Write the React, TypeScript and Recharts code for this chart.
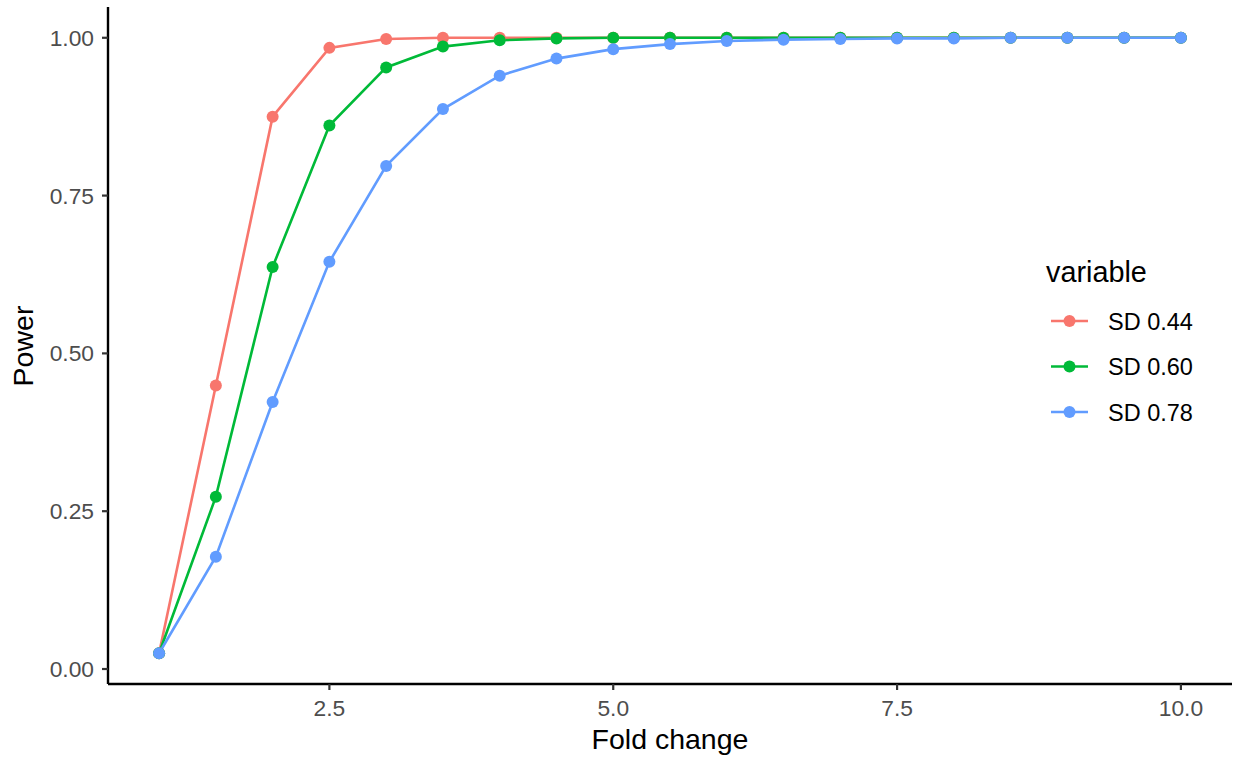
import React from "react";
import { LineChart, Line, XAxis, YAxis } from "recharts";

// Fold change values on the x axis
const foldChange = [1, 1.5, 2, 2.5, 3, 3.5, 4, 4.5, 5, 5.5, 6, 6.5, 7, 7.5, 8, 8.5, 9, 9.5, 10];

// Power for each standard deviation
const sd044 = [0.025, 0.449, 0.875, 0.984, 0.998, 1, 1, 1, 1, 1, 1, 1, 1, 1, 1, 1, 1, 1, 1];
const sd060 = [0.025, 0.273, 0.637, 0.861, 0.953, 0.986, 0.996, 0.999, 1, 1, 1, 1, 1, 1, 1, 1, 1, 1, 1];
const sd078 = [0.025, 0.178, 0.423, 0.645, 0.797, 0.887, 0.94, 0.967, 0.982, 0.99, 0.995, 0.997, 0.998, 0.999, 0.999, 1, 1, 1, 1];

const xTicks = [2.5, 5, 7.5, 10];
const yTicks = [0, 0.25, 0.5, 0.75, 1];

const seriesNames = ["SD 0.44", "SD 0.60", "SD 0.78"];
const seriesColors = ["#F8766D", "#00BA38", "#619CFF"];
const seriesKeys = ["sd044", "sd060", "sd078"];

const rows = foldChange.map((x, i) => ({
  x,
  sd044: sd044[i],
  sd060: sd060[i],
  sd078: sd078[i],
}));

const FONT = "'Liberation Sans', Arial, Helvetica, sans-serif";

const tickStyle = { fill: "#4D4D4D", fontSize: 22.8, fontFamily: FONT };

const XTitle = () => (
  <text x={670} y={749} textAnchor="middle" fontSize={28.5} fontFamily={FONT} fill="#000">
    Fold change
  </text>
);

const YTitle = () => {
  const cy = 346;
  const cx = 33;
  return (
    <text
      x={cx}
      y={cy}
      textAnchor="middle"
      fontSize={28.5}
      fontFamily={FONT}
      fill="#000"
      transform={`rotate(-90, ${cx}, ${cy})`}
    >
      Power
    </text>
  );
};

const LegendBox = () => (
  <svg
    width={200}
    height={200}
    style={{ position: "absolute", left: 1030, top: 240, overflow: "visible" }}
  >
    <text x={16} y={41.5} fontSize={28.8} fontFamily={FONT} fill="#000">
      variable
    </text>
    {seriesNames.map((name, i) => {
      const cy = 81 + i * 45.5;
      return (
        <g key={name}>
          <line x1={21} x2={58} y1={cy} y2={cy} stroke={seriesColors[i]} strokeWidth={2.6} />
          <circle cx={39.5} cy={cy} r={6} fill={seriesColors[i]} />
          <text x={78} y={cy + 8.5} fontSize={23.5} fontFamily={FONT} fill="#000">
            {name}
          </text>
        </g>
      );
    })}
  </svg>
);

export default function App() {
  return (
    <div style={{ position: "absolute", left: 0, top: 0, width: 1236, height: 761, background: "#fff" }}>
      <LineChart
        width={1236}
        height={761}
        data={rows}
        margin={{ top: 7, right: 4, left: 0, bottom: 0 }}
      >
        <XAxis
          dataKey="x"
          type="number"
          domain={[0.55, 10.45]}
          ticks={xTicks}
          allowDataOverflow
          tickFormatter={(v: number) => v.toFixed(1)}
          height={77}
          tick={tickStyle}
          tickSize={6}
          tickMargin={10}
          axisLine={{ stroke: "#000", strokeWidth: 2.4 }}
          tickLine={{ stroke: "#333", strokeWidth: 2.2 }}
          label={<XTitle />}
        />
        <YAxis
          type="number"
          domain={[-0.02375, 1.04875]}
          ticks={yTicks}
          allowDataOverflow
          tickFormatter={(v: number) => v.toFixed(2)}
          width={108}
          tick={tickStyle}
          tickSize={6}
          tickMargin={8}
          axisLine={{ stroke: "#000", strokeWidth: 2.4 }}
          tickLine={{ stroke: "#333", strokeWidth: 2.2 }}
          label={<YTitle />}
        />
        {seriesKeys.map((k, i) => (
          <Line
            key={k}
            dataKey={k}
            name={seriesNames[i]}
            type="linear"
            stroke={seriesColors[i]}
            strokeWidth={2.6}
            dot={{ r: 6, fill: seriesColors[i], stroke: "none" }}
            activeDot={false}
            isAnimationActive={false}
          />
        ))}
      </LineChart>
      <LegendBox />
    </div>
  );
}
